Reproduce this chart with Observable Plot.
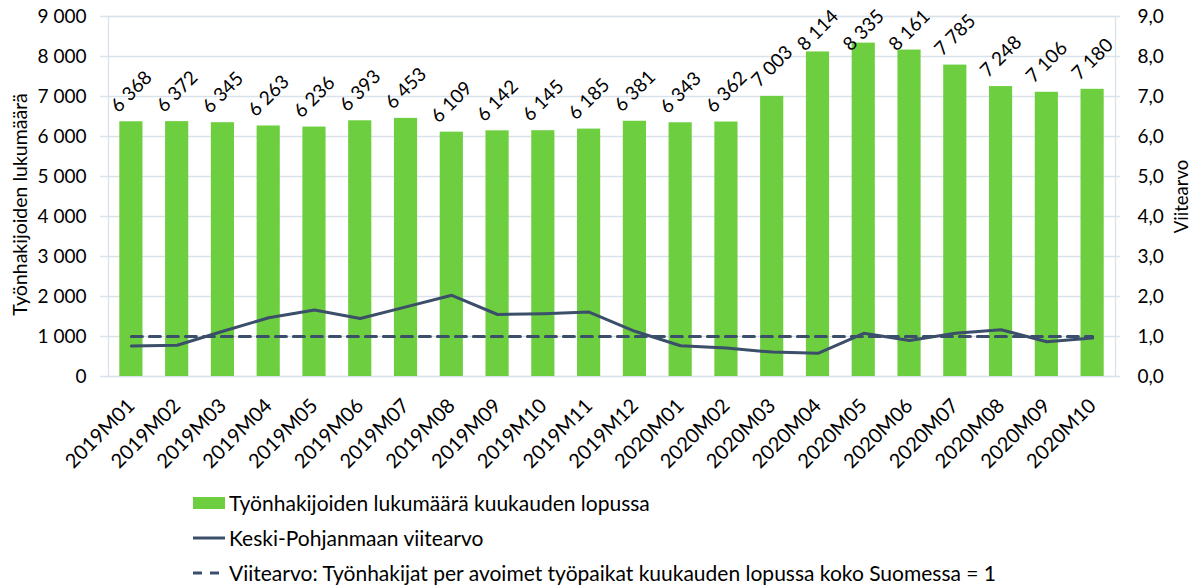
<!DOCTYPE html>
<html>
<head>
<meta charset="utf-8">
<script src="https://cdn.jsdelivr.net/npm/d3@7"></script>
<script src="https://cdn.jsdelivr.net/npm/@observablehq/plot@0.6"></script>
<style>
  body { margin: 0; background: #fff; font-family: Lato, sans-serif; }
  #legend { padding-top: 5px; }
  .row { height: 35px; display: flex; align-items: center; padding-left: 193px; font-size: 21px; color: #000; }
  .sw { width: 32px; height: 12px; margin-right: 4px; }
</style>
</head>
<body>
<div id="chart"></div>
<div id="legend"></div>
<script>
const months = ["2019M01","2019M02","2019M03","2019M04","2019M05","2019M06","2019M07","2019M08","2019M09","2019M10","2019M11","2019M12",
                "2020M01","2020M02","2020M03","2020M04","2020M05","2020M06","2020M07","2020M08","2020M09","2020M10"];
const jobseekers = [6368,6372,6345,6263,6236,6393,6453,6109,6142,6145,6185,6381,6343,6362,7003,8114,8335,8161,7785,7248,7106,7180];
const ratio = [0.76,0.78,1.13,1.47,1.66,1.45,1.74,2.03,1.55,1.57,1.61,1.13,0.77,0.71,0.61,0.58,1.08,0.90,1.08,1.17,0.87,0.96];
const referenceValue = 1;
const leftTicks = [0,1000,2000,3000,4000,5000,6000,7000,8000,9000];
const rightScale = 1000; // 9 000 on the left axis = 9,0 on the right axis

const seriesNames = ["Työnhakijoiden lukumäärä kuukauden lopussa", "Keski-Pohjanmaan viitearvo",
  "Viitearvo: Työnhakijat per avoimet työpaikat kuukauden lopussa koko Suomessa = 1"];
const leftTitle = "Työnhakijoiden lukumäärä";
const rightTitle = "Viitearvo";

const green = "#6dcf3f";
const navy = "#3b4e6a";
const grid = "#d9e1ea";

const data = months.map((m, i) => ({month: m, value: jobseekers[i], ratio: ratio[i]}));
const loc = d3.formatLocale({decimal: ",", thousands: "\u00a0", grouping: [3], currency: ["", ""]});
const fmt = loc.format(",d");
const fmtR = d => (d / rightScale).toFixed(1).replace(".", ",");

const chart = Plot.plot({
  width: 1198, height: 480,
  marginLeft: 108, marginRight: 83, marginTop: 16, marginBottom: 104,
  style: {fontFamily: "Lato, sans-serif", fontSize: "19px", color: "#000", background: "#fff"},
  x: {domain: months, padding: 0, round: false, label: null},
  y: {domain: [0, 9000], label: null},
  marks: [
    Plot.ruleY(leftTicks, {stroke: grid, strokeWidth: 1.3, insetLeft: -8, insetRight: -5}),
    Plot.frame({stroke: grid, strokeWidth: 1.3}),
    Plot.barY(data, {x: "month", y: "value", fill: green, insetLeft: 11.3, insetRight: 11.3}),
    Plot.text(data, {x: "month", y: d => Math.min(d.value, 7900), text: d => fmt(d.value), rotate: -45, dy: -30, fontSize: 19, fill: "#000"}),
    Plot.line(data, {x: "month", y: () => referenceValue * rightScale, stroke: navy, strokeWidth: 3, strokeDasharray: "11,7"}),
    Plot.line(data, {x: "month", y: d => d.ratio * rightScale, stroke: navy, strokeWidth: 3}),
    Plot.axisY(leftTicks, {anchor: "left", tickSize: 0, tickPadding: 22, tickFormat: fmt, label: null, fill: "#000"}),
    Plot.axisY(leftTicks, {anchor: "right", tickSize: 0, tickPadding: 22, tickFormat: fmtR, label: null, fill: "#000"}),
    Plot.axisX({tickRotate: -45, tickSize: 0, tickPadding: 26, label: null, fill: "#000", fontSize: 20}),
    Plot.text([leftTitle], {frameAnchor: "left", textAnchor: "middle", dx: -88, dy: 8, rotate: -90, fontSize: 19.5, fill: "#000"}),
    Plot.text([rightTitle], {frameAnchor: "right", textAnchor: "middle", dx: 67, rotate: -90, fontSize: 18.5, fill: "#000"})
  ]
});
document.getElementById("chart").append(chart);

const legend = document.getElementById("legend");
const samples = [
  `<div class="sw" style="background:${green}"></div>`,
  `<svg class="sw" viewBox="0 0 32 12"><line x1="0" x2="32" y1="6" y2="6" stroke="${navy}" stroke-width="3"/></svg>`,
  `<svg class="sw" viewBox="0 0 32 12"><line x1="0" x2="32" y1="6" y2="6" stroke="${navy}" stroke-width="3" stroke-dasharray="9,8"/></svg>`
];
seriesNames.forEach((name, i) => {
  const row = document.createElement("div");
  row.className = "row";
  row.innerHTML = samples[i] + `<span>${name}</span>`;
  legend.append(row);
});
</script>
</body>
</html>
